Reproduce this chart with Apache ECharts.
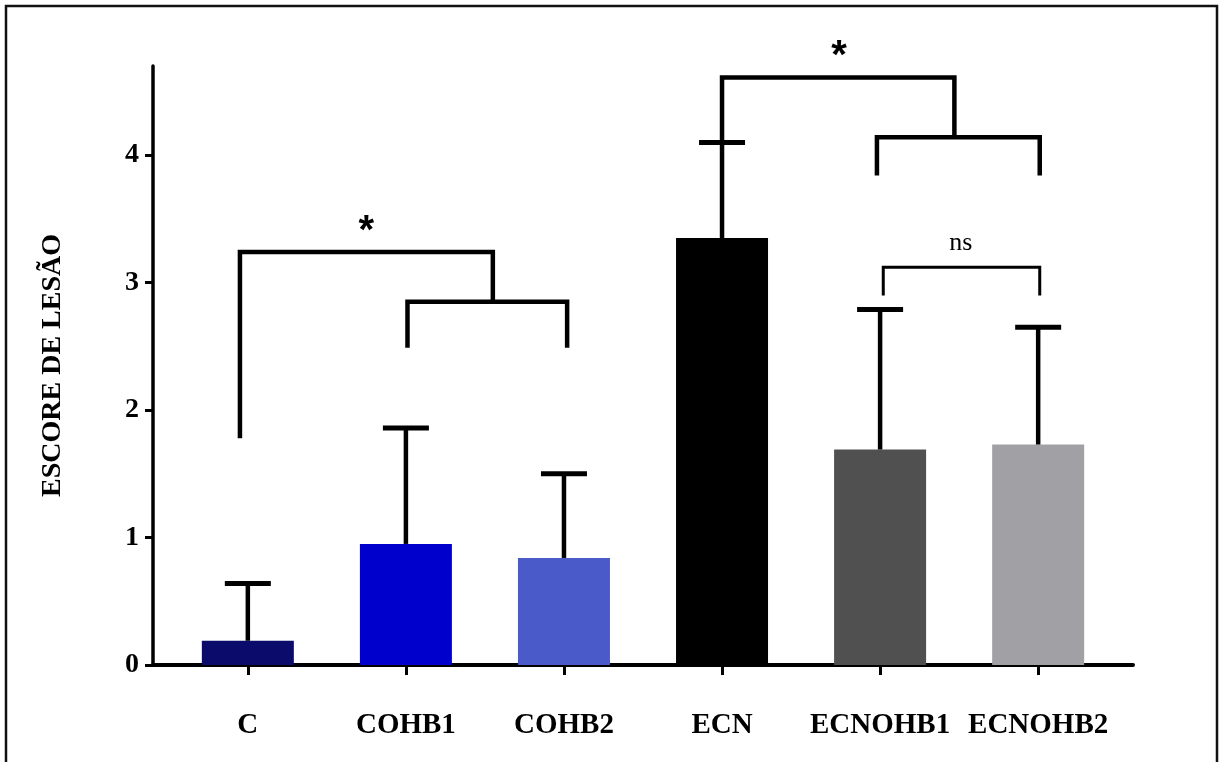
<!DOCTYPE html>
<html>
<head>
<meta charset="utf-8">
<script src="https://cdn.jsdelivr.net/npm/echarts@6/dist/echarts.min.js"></script>
<style>
html,body{margin:0;padding:0;background:#fff;}
#chart{width:1222px;height:762px;}
</style>
</head>
<body>
<div id="chart"></div>
<script>
var categories = ['C', 'COHB1', 'COHB2', 'ECN', 'ECNOHB1', 'ECNOHB2'];
var means = [0.19, 0.95, 0.84, 3.35, 1.69, 1.73];
var errTops = [0.64, 1.86, 1.50, 4.10, 2.79, 2.65];
var yTicks = [0, 1, 2, 3, 4];
var yTitle = 'ESCORE DE LESÃO';

// significance brackets (data coordinates: x = category index, y = score)
var brackets = [
  [[-0.05, 1.78], [-0.05, 3.24], [1.55, 3.24], [1.55, 2.85]],
  [[1.01, 2.49], [1.01, 2.85], [2.02, 2.85], [2.02, 2.49]],
  [[3.0, 4.10], [3.0, 4.61], [4.47, 4.61], [4.47, 4.14]],
  [[3.98, 3.84], [3.98, 4.14], [5.01, 4.14], [5.01, 3.84]]
];
var nsBracket = [[4.02, 2.90], [4.02, 3.12], [5.01, 3.12], [5.01, 2.90]];
var sigLabels = [
  {text: '*', x: 0.75, y: 3.40},
  {text: '*', x: 3.74, y: 4.77}
];
var nsLabel = {text: 'ns', x: 4.51, y: 3.31};

var barColors = ['#0b0b6c', '#0000cc', '#4a5bc9', '#000000', '#505050', '#a1a0a5'];

var chart = echarts.init(document.getElementById('chart'));
var serif = "'Liberation Serif', 'Times New Roman', serif";

var catIdx = categories.map(function (c, i) { return i; });

chart.setOption({
  animation: false,
  backgroundColor: '#ffffff',
  graphic: [{
    type: 'rect',
    shape: {x: 6, y: 6, width: 1211, height: 780},
    style: {fill: 'none', stroke: '#111', lineWidth: 2.5},
    silent: true
  }],
  grid: {left: 153, right: 89, top: 66, bottom: 97, containLabel: false},
  xAxis: {
    type: 'value',
    min: -0.6,
    max: 5.6,
    splitLine: {show: false},
    axisLine: {show: true, onZero: false, lineStyle: {color: '#000', width: 4}},
    axisTick: {show: true, customValues: catIdx, length: 10, lineStyle: {color: '#000', width: 3}},
    axisLabel: {
      show: true,
      customValues: catIdx,
      formatter: function (v) { return categories[Math.round(v)] || ''; },
      color: '#000',
      fontFamily: serif,
      fontWeight: 'bold',
      fontSize: 29,
      margin: 46
    }
  },
  yAxis: {
    type: 'value',
    min: 0,
    max: 4.7,
    splitLine: {show: false},
    axisLine: {show: true, onZero: false, lineStyle: {color: '#000', width: 3.5}},
    axisTick: {show: true, customValues: yTicks, length: 8, lineStyle: {color: '#000', width: 3}},
    axisLabel: {
      show: true,
      customValues: yTicks,
      color: '#000',
      fontFamily: serif,
      fontWeight: 'bold',
      fontSize: 28,
      margin: 14
    },
    name: yTitle,
    nameLocation: 'middle',
    nameGap: 86,
    nameTextStyle: {color: '#000', fontFamily: serif, fontWeight: 'bold', fontSize: 28}
  },
  series: [
    {
      type: 'bar',
      barWidth: 92,
      data: means.map(function (m, i) {
        return {value: [i, m], itemStyle: {color: barColors[i]}};
      }),
      z: 2
    },
    {
      type: 'custom',
      z: 3,
      data: means.map(function (m, i) { return [i, m, errTops[i]]; }),
      renderItem: function (params, api) {
        var x = api.value(0);
        var p0 = api.coord([x, api.value(1)]);
        var p1 = api.coord([x, api.value(2)]);
        var half = 23;
        return {
          type: 'group',
          children: [
            {type: 'line', shape: {x1: p0[0], y1: p0[1], x2: p1[0], y2: p1[1]}, style: {stroke: '#000', lineWidth: 4.5}},
            {type: 'line', shape: {x1: p1[0] - half, y1: p1[1], x2: p1[0] + half, y2: p1[1]}, style: {stroke: '#000', lineWidth: 5}}
          ]
        };
      }
    },
    {
      type: 'custom',
      z: 4,
      clip: false,
      data: brackets.map(function (b, i) { return [i]; }),
      renderItem: function (params, api) {
        var b = brackets[params.dataIndex];
        var pts = b.map(function (p) { return api.coord(p); });
        return {type: 'polyline', shape: {points: pts}, style: {stroke: '#000', lineWidth: 4.5, fill: 'none', lineJoin: 'miter'}};
      }
    },
    {
      type: 'custom',
      z: 4,
      clip: false,
      data: [[0]],
      renderItem: function (params, api) {
        var pts = nsBracket.map(function (p) { return api.coord(p); });
        return {type: 'polyline', shape: {points: pts}, style: {stroke: '#000', lineWidth: 3, fill: 'none', lineJoin: 'miter'}};
      }
    },
    {
      type: 'custom',
      z: 5,
      clip: false,
      data: sigLabels.map(function (s) { return [s.x, s.y]; }),
      renderItem: function (params, api) {
        var s = sigLabels[params.dataIndex];
        var p = api.coord([s.x, s.y]);
        return {type: 'text', x: p[0], y: p[1], style: {text: s.text, fill: '#000', font: "bold 40px 'Liberation Sans', Arial, sans-serif", align: 'center', verticalAlign: 'middle'}};
      }
    },
    {
      type: 'custom',
      z: 5,
      clip: false,
      data: [[nsLabel.x, nsLabel.y]],
      renderItem: function (params, api) {
        var p = api.coord([nsLabel.x, nsLabel.y]);
        return {type: 'text', x: p[0], y: p[1], style: {text: nsLabel.text, fill: '#000', font: "26px 'Liberation Serif', 'Times New Roman', serif", align: 'center', verticalAlign: 'middle'}};
      }
    }
  ]
});
</script>
</body>
</html>
